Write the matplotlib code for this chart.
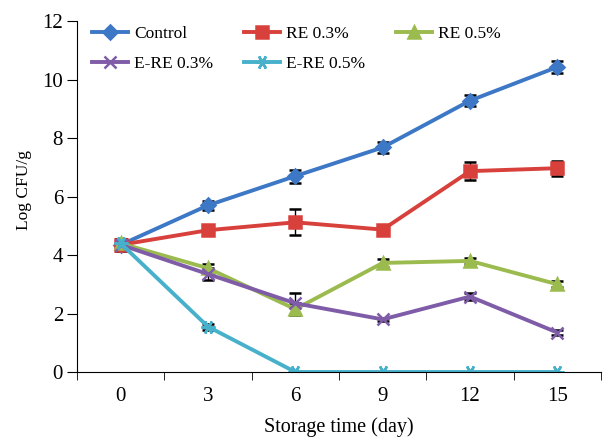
import matplotlib.pyplot as plt
from matplotlib.lines import Line2D

plt.rcParams['font.family'] = ['Liberation Serif', 'DejaVu Serif']

days = ["0", "3", "6", "9", "12", "15"]

control = [4.35, 5.70, 6.70, 7.68, 9.28, 10.43]
control_err = [0.20, 0.15, 0.22, 0.20, 0.18, 0.20]

re03 = [4.35, 4.85, 5.12, 4.87, 6.87, 6.97]
re03_err = [0.20, 0.10, 0.45, 0.10, 0.30, 0.25]

re05 = [4.40, 3.55, 2.15, 3.73, 3.80, 3.00]
re05_err = [0.15, 0.15, 0.20, 0.15, 0.10, 0.10]

ere03 = [4.35, 3.35, 2.35, 1.80, 2.58, 1.35]
ere03_err = [0.15, 0.20, 0.35, 0.05, 0.12, 0.10]

ere05 = [4.40, 1.55, 0.0, 0.0, 0.0, 0.0]
ere05_err = [0.15, 0.10, 0.0, 0.0, 0.0, 0.0]

series = [
    ("Control", control, control_err, "#3D78C6", "D", 7),
    ("RE 0.3%", re03, re03_err, "#D8403B", "s", 8),
    ("RE 0.5%", re05, re05_err, "#9BBB4F", "^", 8),
    ("E-RE 0.3%", ere03, ere03_err, "#7F5CA8", "x", 8),
    ("E-RE 0.5%", ere05, ere05_err, "#47B1CC", (6, 2, 90), 10),
]

fig = plt.figure(figsize=(6.03, 4.4), dpi=100)
ax = fig.add_axes([0.1277, 0.1545, 0.869, 0.7975])

x = list(range(len(days)))
handles = {}
for name, vals, err, col, mk, ms in series:
    ax.errorbar(x, vals, yerr=err, color=col, lw=2.8, marker=mk, ms=ms,
                mew=1.8, ecolor="black", elinewidth=1.0, capsize=4,
                capthick=1.2)
    handles[name] = Line2D([], [], color=col, lw=2.8, marker=mk, ms=ms,
                           mew=1.8, label=name)

ax.set_xlim(-0.5, 5.5)
ax.set_ylim(0, 12)
ax.set_yticks(range(0, 13, 2))
ax.set_xticks(x)
ax.set_xticklabels(days)
ax.set_xticks([i - 0.5 for i in range(len(days) + 1)], minor=True)
ax.tick_params(axis="x", which="major", length=0, pad=11, labelsize=15)
ax.tick_params(axis="x", which="minor", length=6, direction="out")
ax.tick_params(axis="y", length=7, direction="out", pad=3, labelsize=15)
for s in ["top", "right"]:
    ax.spines[s].set_visible(False)

ax.set_xlabel("Storage time (day)", fontsize=14.5, labelpad=8)
ax.set_ylabel("Log CFU/g", fontsize=12.5)
ax.yaxis.set_label_coords(-0.086, 0.52)

# column-major fill so the legend reads row by row like the original
order = ["Control", "E-RE 0.3%", "RE 0.3%", "E-RE 0.5%", "RE 0.5%"]
ax.legend(handles=[handles[k] for k in order], loc="upper left",
          bbox_to_anchor=(-0.002, 1.03), ncol=3, frameon=False,
          fontsize=12.5, handlelength=2.1, columnspacing=1.75,
          labelspacing=0.8, handletextpad=0.35)

fig.savefig("out.png", dpi=100)
